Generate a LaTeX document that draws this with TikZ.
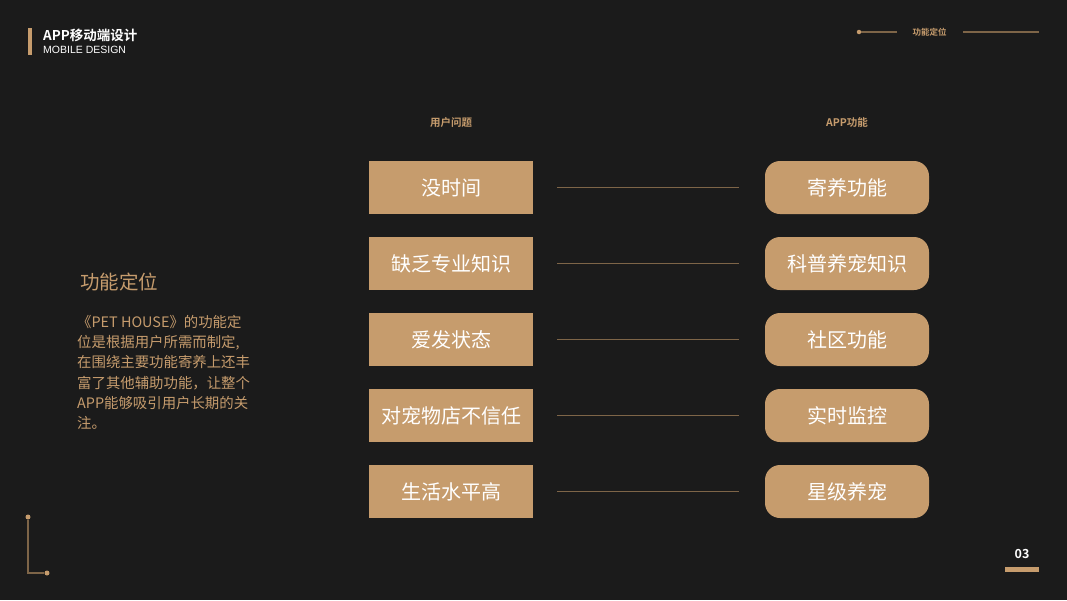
\documentclass[tikz,border=0pt]{standalone}
\usepackage{fontspec}
\setmainfont{Noto Sans CJK SC}
\newfontfamily\cjk{Noto Sans CJK SC}
\newfontfamily\cjkb{Noto Sans CJK SC Bold}
\newfontfamily\latinsans{Liberation Sans}
\definecolor{bg}{HTML}{1B1B1B}
\definecolor{gold}{HTML}{C69C6D}
\definecolor{linec}{HTML}{7E6548}
\tikzset{
  probbox/.style={fill=gold, draw=none, minimum width=164pt, minimum height=53pt, inner sep=0pt, text=white, font=\cjk\fontsize{20}{23}\selectfont},
  funcbox/.style={probbox, rounded corners=15pt},
  link/.style={draw=linec, line width=1.1pt},
  deco/.style={draw=linec, line width=1.6pt},
  dot/.style={circle, fill=gold, inner sep=0pt, minimum size=5pt},
  colhead/.style={text=gold, font=\cjkb\fontsize{10.5}{12}\selectfont, inner sep=0pt},
}
\begin{document}
\begin{tikzpicture}[x=1pt,y=-1pt]
\fill[bg] (0,0) rectangle (1067,600);
\useasboundingbox (0,0) rectangle (1067,600);
% header
\fill[gold] (28,28) rectangle (32,55);
\node[anchor=west, inner sep=0pt, text=white, font=\cjkb\fontsize{13.5}{15}\selectfont] (title) at (43,35) {APP移动端设计};
\node[anchor=west, inner sep=0pt, text=white, font=\latinsans\fontsize{10.5}{12}\selectfont] (subtitle) at (43,49.5) {MOBILE DESIGN};
% top right
\node[dot, minimum size=4.5pt] (trdot) at (859,32) {};
\node[inner sep=0pt, text=gold, font=\cjkb\fontsize{8.5}{10}\selectfont] (trtext) at (929.5,32) {功能定位};
\coordinate (trl) at (897,32);
\coordinate (trr1) at (963,32);
\coordinate (trr2) at (1039,32);
\draw[link] (trdot) -- (trl);
\draw[link] (trr1) -- (trr2);
% bottom left corner
\node[dot] (bl1) at (28,517) {};
\node[dot] (bl2) at (47,573) {};
\coordinate (blc) at (28,573);
\draw[deco] (bl1) -- (blc) -- (bl2);
% page number
\node[inner sep=0pt, text=white, font=\cjkb\fontsize{12.5}{14}\selectfont] (pnum) at (1022,554) {03};
\fill[gold] (1005,567) rectangle (1039,572);
% left text
\node[anchor=west, inner sep=0pt, text=gold, font=\cjk\fontsize{19.5}{22}\selectfont] (lhead) at (80,282) {功能定位};
\node[anchor=north west, inner sep=0pt, align=left, text=gold, font=\cjk\fontsize{14.4}{20.2}\selectfont] (para) at (77,315) {《PET HOUSE》的功能定\\位是根据用户所需而制定,\\在围绕主要功能寄养上还丰\\富了其他辅助功能，让整个\\APP能够吸引用户长期的关\\注。};
% column headers
\node[colhead] (h1) at (451,123) {用户问题};
\node[colhead] (h2) at (847,123) {APP功能};
% rows
\foreach \i/\p/\f in {0/没时间/寄养功能, 1/缺乏专业知识/科普养宠知识, 2/爱发状态/社区功能, 3/对宠物店不信任/实时监控, 4/生活水平高/星级养宠}{
  \node[probbox] (p\i) at (451,187.5+76*\i) {\p};
  \node[funcbox] (f\i) at (847,187.5+76*\i) {\f};
  \draw[link] ([xshift=24pt]p\i.east) -- ([xshift=-26pt]f\i.west);
}
\end{tikzpicture}
\end{document}
